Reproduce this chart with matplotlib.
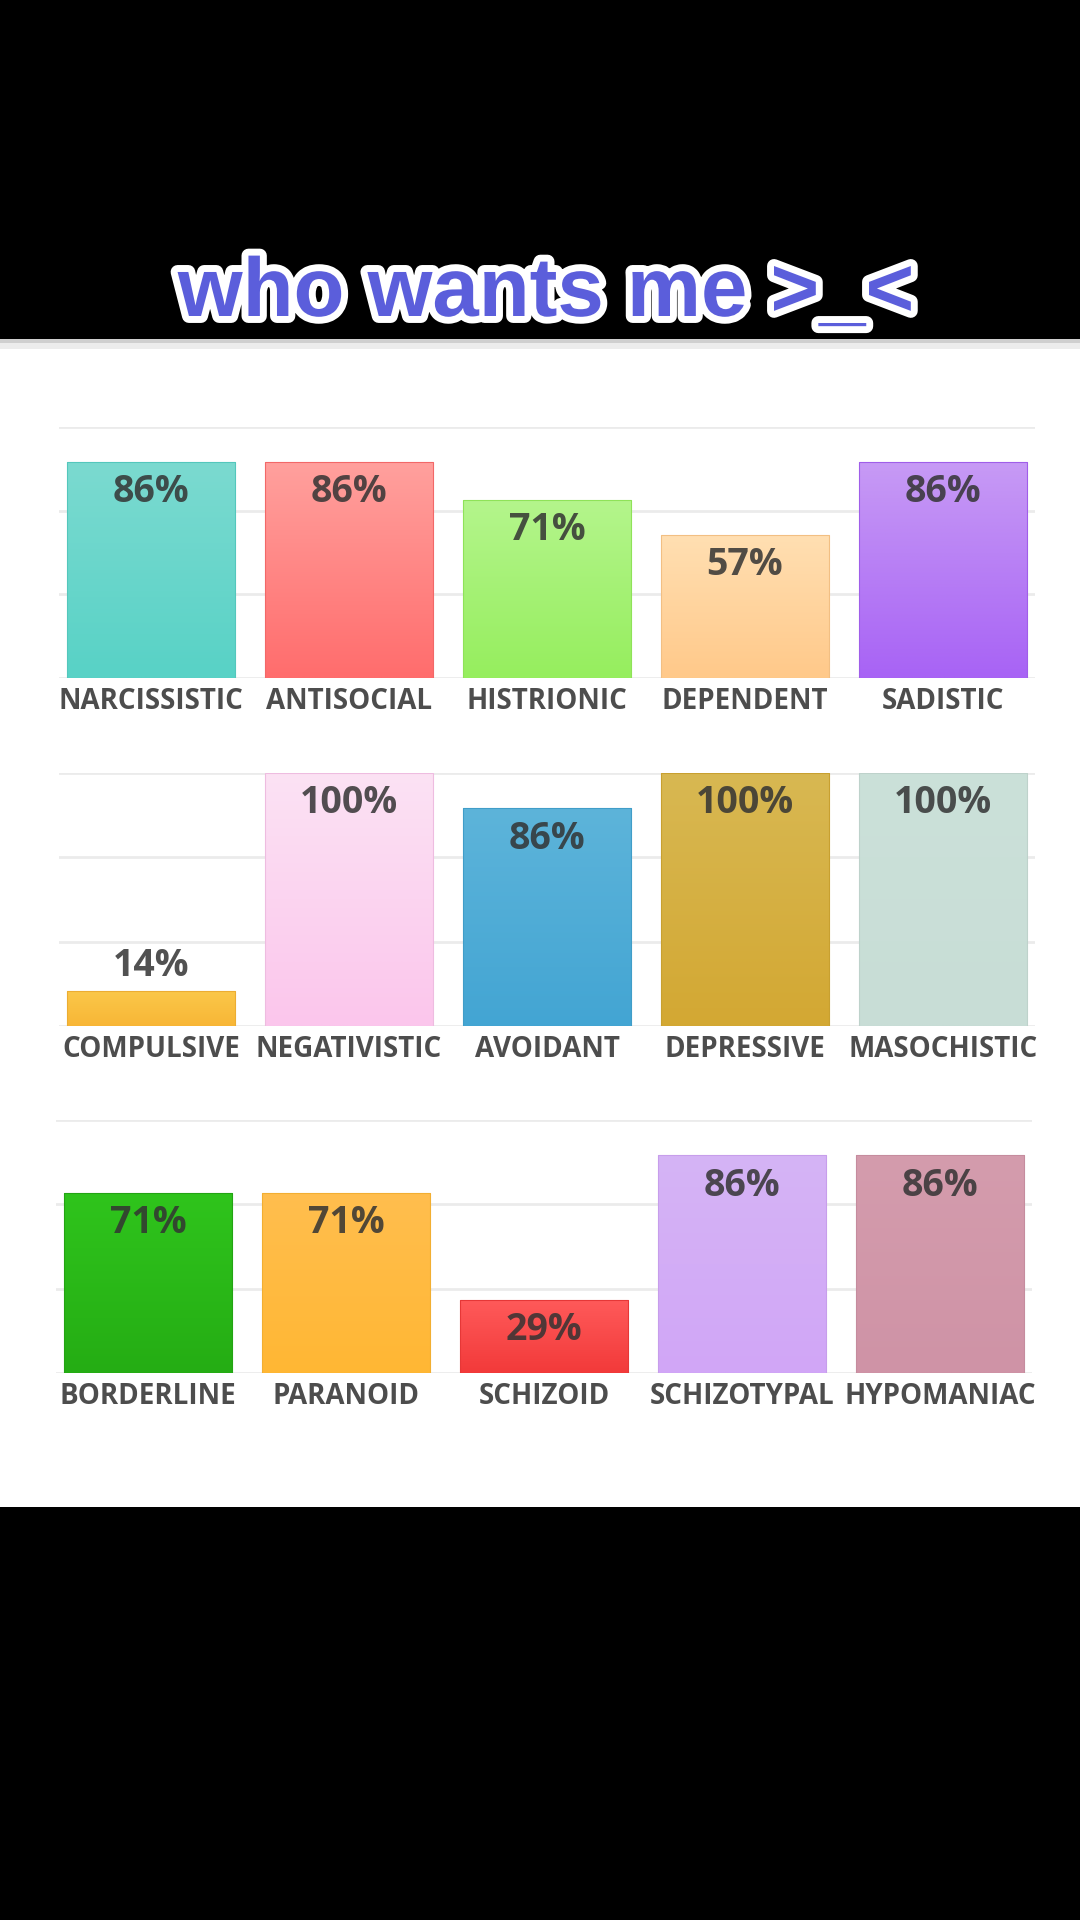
import matplotlib
matplotlib.use("Agg")
import matplotlib.pyplot as plt
import matplotlib.patheffects as pe
from matplotlib.patches import Rectangle
import matplotlib.colors as mcolors
import numpy as np

# ---------------- data ----------------
title = "who wants me >_<"

row1_labels = ["NARCISSISTIC", "ANTISOCIAL", "HISTRIONIC", "DEPENDENT", "SADISTIC"]
row1_values = [86, 86, 71, 57, 86]
row1_top = ["#7bdad0", "#ffa09d", "#b4f58c", "#ffdfb2", "#c79af5"]
row1_bottom = ["#58d2c6", "#ff6d6d", "#96ee5e", "#ffc98a", "#a863f5"]

row2_labels = ["COMPULSIVE", "NEGATIVISTIC", "AVOIDANT", "DEPRESSIVE", "MASOCHISTIC"]
row2_values = [14, 100, 86, 100, 100]
row2_top = ["#fbc84a", "#fce2f4", "#5db4da", "#d8b852", "#cbe1d9"]
row2_bottom = ["#f8b636", "#fbc6ec", "#43a5d3", "#d3a833", "#c8ddd6"]

row3_labels = ["BORDERLINE", "PARANOID", "SCHIZOID", "SCHIZOTYPAL", "HYPOMANIAC"]
row3_values = [71, 71, 29, 86, 86]
row3_top = ["#2fc41c", "#ffbe4e", "#ff5a5a", "#d5b4f5", "#d49cad"]
row3_bottom = ["#25ad14", "#ffb734", "#f23a3a", "#d1a6f7", "#cf93a6"]

rows = [
    (row1_labels, row1_values, row1_top, row1_bottom),
    (row2_labels, row2_values, row2_top, row2_bottom),
    (row3_labels, row3_values, row3_top, row3_bottom),
]

# ---------------- layout ----------------
W, H = 1080, 1920
fig = plt.figure(figsize=(W / 100, H / 100), dpi=100, facecolor="black")

def fy(px):
    return 1 - px / H

# white card and its soft top edge
fig.patches.append(Rectangle((0, fy(1507)), 1, fy(345) - fy(1507), transform=fig.transFigure,
                             facecolor="white", edgecolor="none", zorder=-2))
fig.patches.append(Rectangle((0, fy(343)), 1, fy(339) - fy(343), transform=fig.transFigure,
                             facecolor="#cfcfcf", edgecolor="none", zorder=-2))
fig.patches.append(Rectangle((0, fy(349)), 1, fy(343) - fy(349), transform=fig.transFigure,
                             facecolor="#ececec", edgecolor="none", zorder=-2))

# title
fig.text(546 / W, fy(316), title, ha="center", va="baseline", fontsize=60,
         fontweight="bold", family="Liberation Sans", color="#5b5edb",
         path_effects=[pe.withStroke(linewidth=10, foreground="white")], zorder=5)

panel_tops = [427, 773, 1120]
panel_bottoms = [678, 1026, 1373]
panel_lefts = [59, 59, 56]
ax_width = (1035 - 59) / W

label_font = "Open Sans"

for (labels, values, tops, bottoms), ptop, pbot, pleft in zip(rows, panel_tops, panel_bottoms, panel_lefts):
    ax = fig.add_axes([pleft / W, fy(pbot), ax_width, fy(ptop) - fy(pbot)])
    ax.set_facecolor("none")
    x = np.arange(len(labels))
    bars = ax.bar(x, values, width=0.85, color=bottoms, edgecolor="none", zorder=3)
    for b, ct, cb in zip(bars, tops, bottoms):
        x0, y0 = b.get_x(), b.get_y()
        w, h = b.get_width(), b.get_height()
        c1 = np.array(mcolors.to_rgb(ct))
        c2 = np.array(mcolors.to_rgb(cb))
        t = np.linspace(0, 1, 64)[:, None]
        grad = (c1[None, :] * (1 - t) + c2[None, :] * t)[:, None, :]
        im = ax.imshow(grad, extent=[x0, x0 + w, y0, y0 + h], origin="upper",
                       aspect="auto", zorder=3.5, interpolation="bilinear")
        im.set_clip_path(b)
        edge = tuple(np.clip(c2 * 0.95, 0, 1))
        ax.add_patch(Rectangle((x0, y0), w, h, facecolor="none", edgecolor=edge,
                               linewidth=0.8, zorder=3.6))
    ax.set_xlim(-0.465, len(labels) - 1 + 0.465)
    ax.set_ylim(0, 100)

    for xi, v in zip(x, values):
        if v >= 20:
            ax.annotate(f"{v}%", (xi, v), xytext=(0, -8), textcoords="offset points",
                        ha="center", va="top", fontsize=27, fontweight="bold",
                        family=label_font, color="#333333", alpha=0.85, zorder=5)
        else:
            ax.annotate(f"{v}%", (xi, v), xytext=(0, 4), textcoords="offset points",
                        ha="center", va="bottom", fontsize=27, fontweight="bold",
                        family=label_font, color="#333333", alpha=0.85, zorder=5)

    ax.set_yticks([0, 100 / 3, 200 / 3, 100])
    ax.yaxis.grid(True, color="#ebebeb", linewidth=2, zorder=0)
    ax.set_axisbelow(True)
    ax.tick_params(axis="y", left=False, labelleft=False)
    ax.set_xticks(x)
    ax.set_xticklabels(labels, fontsize=20, fontweight="bold", family=label_font,
                       color="#4d4d4d")
    ax.tick_params(axis="x", length=0, pad=6.5)
    for s in ax.spines.values():
        s.set_visible(False)

fig.savefig("out.png", dpi=100, facecolor="black")
